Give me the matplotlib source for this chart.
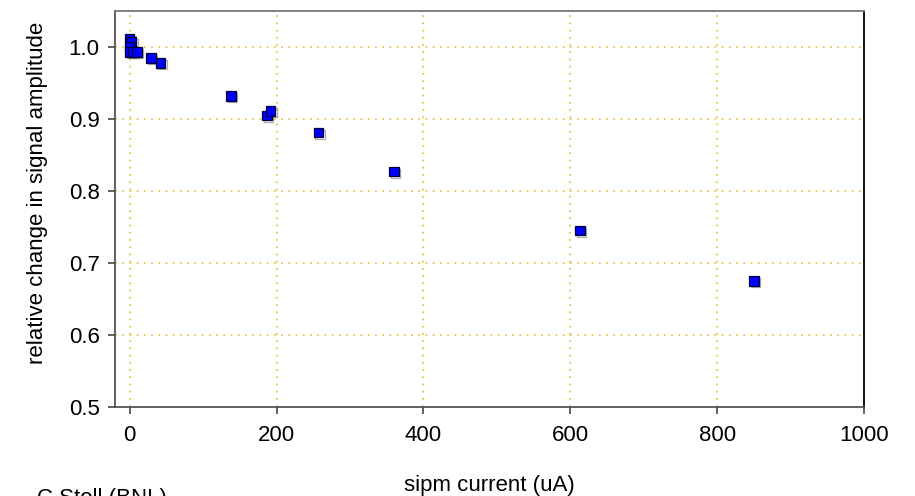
"""
Relative change in SiPM signal amplitude versus SiPM current.
"""

import matplotlib
matplotlib.use('Agg')
import matplotlib.pyplot as plt
import matplotlib.patheffects as pe

plt.rcParams['font.family'] = ['Liberation Sans', 'DejaVu Sans']

# sipm current (uA) and relative change in signal amplitude
current_ua = [0, 2, 0, 0, 4, 10, 29, 42, 138, 187, 192, 257, 360, 613, 850]
rel_amplitude = [1.011, 1.007, 1.000, 0.993, 0.993, 0.993, 0.985, 0.978,
                 0.932, 0.905, 0.911, 0.881, 0.827, 0.745, 0.675]

x_ticks = [0, 200, 400, 600, 800, 1000]
y_ticks = [0.5, 0.6, 0.7, 0.8, 0.9, 1.0]

fig = plt.figure(figsize=(9.15, 4.96), dpi=100)
ax = fig.add_axes([0.1257, 0.1794, 0.8186, 0.7984])

grid_color = '#e3c84a'
ax.set_axisbelow(True)
for xv in x_ticks:
    ax.axvline(xv, color=grid_color, linestyle=(0, (1, 3)), linewidth=1.3, zorder=0)
for yv in y_ticks[1:]:
    ax.axhline(yv, color=grid_color, linestyle=(0, (1, 3)), linewidth=1.3, zorder=0)

shadow = [pe.SimpleLineShadow(offset=(1.2, -1.2), shadow_color='#777777', alpha=0.6),
          pe.Normal()]
ax.plot(current_ua, rel_amplitude, linestyle='none', marker='s', markersize=6.8,
        markerfacecolor='#0000ff', markeredgecolor='#000033', markeredgewidth=0.9,
        path_effects=shadow, zorder=3)

ax.set_xlim(-20, 1000)
ax.set_ylim(0.5, 1.05)
ax.set_xticks(x_ticks)
ax.set_yticks(y_ticks)
ax.set_yticklabels([f'{v:.1f}' for v in y_ticks])

for side in ('left', 'bottom'):
    ax.spines[side].set_color('#555555')
    ax.spines[side].set_linewidth(1.3)
ax.spines['top'].set_color('#777777')
ax.spines['top'].set_linewidth(1.3)
ax.spines['right'].set_color('#000000')
ax.spines['right'].set_linewidth(1.3)

ax.tick_params(axis='both', direction='out', length=5, width=1.3, color='#555555',
               labelsize=16, pad=6)
ax.tick_params(axis='x', pad=8)

ax.set_xlabel('sipm current (uA)', fontsize=16)
ax.set_ylabel('relative change in signal amplitude', fontsize=16)
ax.xaxis.set_label_coords(0.5, -0.172)
ax.yaxis.set_label_coords(-0.09, 0.54)

fig.text(0.04, 1 - 488 / 496, 'C.Stoll (BNL)', fontsize=16, va='top', ha='left')

fig.savefig('out.png', dpi=100)
